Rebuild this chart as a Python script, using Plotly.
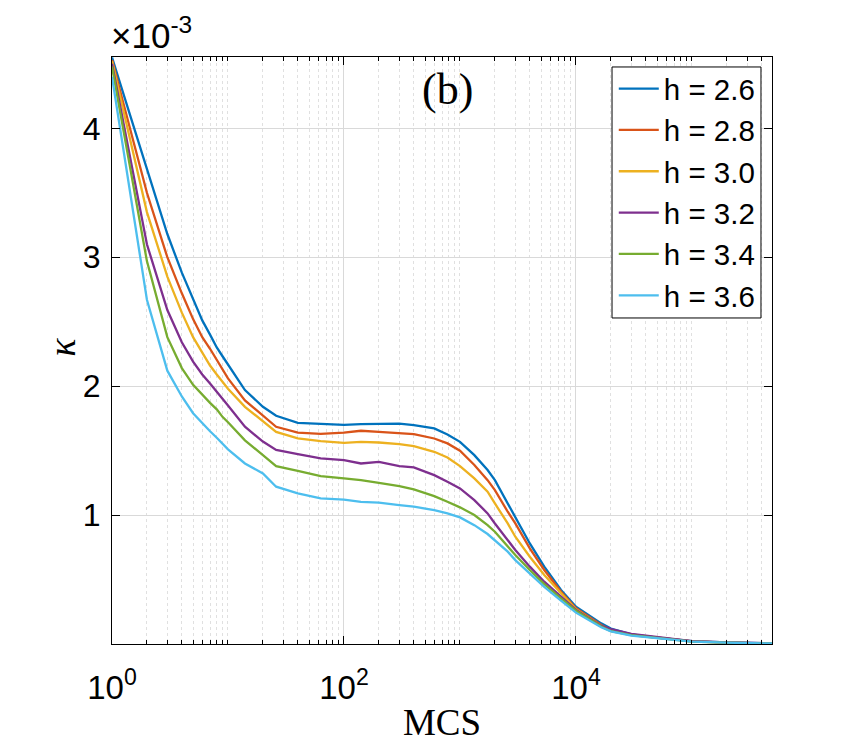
import plotly.graph_objects as go

# MCS values (shared x grid)
mcs = [1, 2, 3, 4, 5, 6, 7, 8, 9, 10, 14, 20, 26, 40, 63, 100, 140, 200, 300, 400,
       600, 780, 1000, 1330, 1730, 2000, 2580, 3000, 4000, 5330, 7430, 10000,
       16500, 20000, 30000, 50000, 100000, 200000, 490000]

# kappa values in units of 1e-3
k_26 = [4.55, 3.69, 3.18, 2.88, 2.67, 2.51, 2.40, 2.30, 2.23, 2.17, 1.97, 1.84, 1.77, 1.715,
        1.705, 1.70, 1.705, 1.71, 1.71, 1.698, 1.672, 1.625, 1.568, 1.465, 1.349, 1.271,
        1.09, 0.987, 0.78, 0.60, 0.419, 0.289, 0.16, 0.12, 0.075, 0.05, 0.022, 0.012, 0.005]
k_28 = [4.53, 3.50, 3.00, 2.72, 2.52, 2.38, 2.29, 2.20, 2.12, 2.06, 1.89, 1.775, 1.685, 1.64,
        1.63, 1.64, 1.654, 1.646, 1.633, 1.628, 1.594, 1.556, 1.499, 1.388, 1.271, 1.194,
        1.026, 0.935, 0.742, 0.574, 0.405, 0.277, 0.147, 0.11, 0.072, 0.048, 0.02, 0.011, 0.004]
k_30 = [4.52, 3.35, 2.85, 2.57, 2.38, 2.26, 2.16, 2.09, 2.03, 1.98, 1.84, 1.725, 1.645, 1.595,
        1.574, 1.56, 1.568, 1.563, 1.55, 1.535, 1.491, 1.447, 1.38, 1.284, 1.181, 1.09,
        0.935, 0.832, 0.677, 0.535, 0.393, 0.269, 0.14, 0.105, 0.07, 0.047, 0.02, 0.011, 0.004]
k_32 = [4.50, 3.10, 2.59, 2.34, 2.19, 2.09, 2.02, 1.96, 1.90, 1.85, 1.685, 1.57, 1.505, 1.473,
        1.44, 1.426, 1.40, 1.413, 1.38, 1.37, 1.31, 1.258, 1.207, 1.116, 1.013, 0.935,
        0.806, 0.729, 0.60, 0.483, 0.367, 0.264, 0.14, 0.115, 0.078, 0.052, 0.022, 0.012, 0.005]
k_34 = [4.48, 2.97, 2.38, 2.14, 2.01, 1.93, 1.87, 1.82, 1.76, 1.72, 1.58, 1.465, 1.38, 1.343,
        1.302, 1.284, 1.271, 1.25, 1.225, 1.199, 1.147, 1.103, 1.06, 1.0, 0.922, 0.871,
        0.754, 0.69, 0.574, 0.465, 0.354, 0.258, 0.135, 0.1, 0.068, 0.045, 0.019, 0.01, 0.004]
k_36 = [4.40, 2.67, 2.12, 1.92, 1.79, 1.71, 1.65, 1.60, 1.55, 1.51, 1.40, 1.323, 1.22, 1.168,
        1.129, 1.12, 1.103, 1.096, 1.078, 1.065, 1.039, 1.013, 0.982, 0.922, 0.853, 0.806,
        0.716, 0.651, 0.548, 0.444, 0.336, 0.243, 0.13, 0.098, 0.065, 0.044, 0.018, 0.01, 0.004]

names = ["h = 2.6", "h = 2.8", "h = 3.0", "h = 3.2", "h = 3.4", "h = 3.6"]
series = [k_26, k_28, k_30, k_32, k_34, k_36]
colors = ["#0072BD", "#D95319", "#EDB120", "#7E2F8E", "#77AC30", "#4DBEEE"]

x_tickvals = [1, 100, 10000]
x_ticktext = ["10<sup>0</sup>", "10<sup>2</sup>", "10<sup>4</sup>"]
y_tickvals = [1, 2, 3, 4]
y_ticktext = ["1", "2", "3", "4"]

minor_vals = []
for dec in [1, 10, 100, 1000, 10000, 100000]:
    for m in range(1, 10):
        v = m * dec
        if v not in x_tickvals and v <= 490000:
            minor_vals.append(v)

fig = go.Figure()
for name, ys, c in zip(names, series, colors):
    fig.add_trace(go.Scatter(x=mcs, y=ys, mode="lines", name=name,
                             line=dict(color=c, width=2.3)))

sans = "Liberation Sans, Arial, sans-serif"
serif = "Liberation Serif, Times New Roman, serif"

fig.update_layout(
    width=854, height=750,
    margin=dict(l=104, r=90, t=49, b=114, autoexpand=False),
    paper_bgcolor="white", plot_bgcolor="white",
    showlegend=True,
    legend=dict(x=0.983, y=0.99, xanchor="right", yanchor="top",
                bgcolor="rgba(0,0,0,0)", borderwidth=0,
                font=dict(family=sans, size=29.5, color="black"),
                itemwidth=40),
    shapes=[dict(type="rect", xref="paper", yref="paper",
                 x0=0.7576, x1=0.9833, y0=0.5554, y1=0.983,
                 line=dict(color="black", width=1), fillcolor="white", layer="above")],
    xaxis=dict(type="log", range=[0, 5.69], automargin=False,
               tickvals=x_tickvals, ticktext=x_ticktext,
               ticks="inside", ticklen=8, tickcolor="black", tickwidth=1,
               ticklabelstandoff=14,
               showline=True, linecolor="black", linewidth=1, mirror="ticks",
               showgrid=True, gridcolor="#d9d9d9", gridwidth=1,
               tickfont=dict(family=sans, size=33, color="black"),
               zeroline=False,
               minor=dict(tickvals=minor_vals, ticks="inside", ticklen=4,
                          tickcolor="black", showgrid=True,
                          gridcolor="#e0e0e0", griddash="3px,3px", gridwidth=1),
               title=dict(text="MCS", font=dict(family=serif, size=37, color="black"),
                          standoff=4)),
    yaxis=dict(range=[0, 4.553], automargin=False,
               tickvals=y_tickvals, ticktext=y_ticktext,
               ticks="inside", ticklen=8, tickcolor="black", tickwidth=1,
               ticklabelstandoff=4,
               showline=True, linecolor="black", linewidth=1, mirror="ticks",
               showgrid=True, gridcolor="#d9d9d9", gridwidth=1,
               tickfont=dict(family=sans, size=32, color="black"),
               zeroline=False),
    annotations=[
        dict(text="×10<sup>-3</sup>", xref="paper", yref="paper", x=-0.004, y=1.0,
             xanchor="left", yanchor="bottom", showarrow=False,
             font=dict(family=sans, size=35, color="black")),
        dict(text="(b)", xref="paper", yref="paper", x=0.509, y=0.945,
             xanchor="center", yanchor="middle", showarrow=False,
             font=dict(family=serif, size=44, color="black")),
        dict(text="<i>κ</i>", xref="paper", yref="paper", x=-0.077, y=0.505,
             xanchor="center", yanchor="middle", showarrow=False, textangle=-90,
             font=dict(family=serif, size=38, color="black")),
    ],
)

fig.write_html("out.html")
